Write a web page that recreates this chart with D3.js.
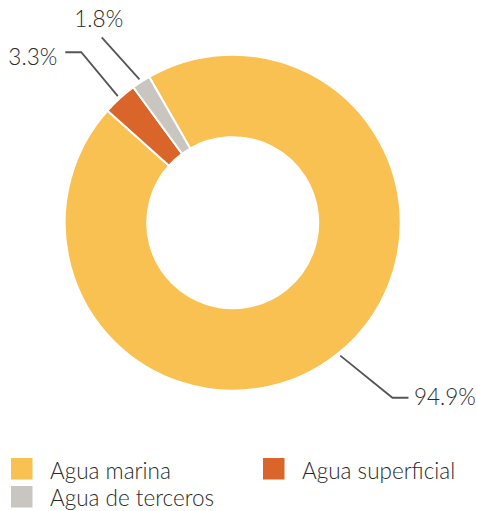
<!DOCTYPE html>
<html>
<head>
<meta charset="utf-8">
<script src="https://cdn.jsdelivr.net/npm/d3@7/dist/d3.min.js"></script>
<style>
  html, body { margin: 0; padding: 0; background: #fff; }
  svg text { font-family: Lato, "Open Sans", sans-serif; font-weight: 300; fill: #2a2a2a; }
</style>
</head>
<body>
<svg id="chart" width="477" height="511"></svg>
<script>
// Water sources, share of total (%)
const categories = ["Agua marina", "Agua superficial", "Agua de terceros"];
const values = [94.9, 3.3, 1.8];
const valueLabels = ["94.9%", "3.3%", "1.8%"];
const colors = ["#F9C152", "#D9652A", "#C9C5C0"];

const width = 477, height = 511;
const svg = d3.select("#chart");
const cx = 232.7, cy = 222.7;
const outerR = 168, innerR = 85.5;

const startDeg = -29.8;
const pie = d3.pie()
  .sort(null)
  .value(d => d.value)
  .startAngle(startDeg * Math.PI / 180)
  .endAngle(startDeg * Math.PI / 180 + 2 * Math.PI);

const data = categories.map((c, i) => ({ name: c, value: values[i], label: valueLabels[i], color: colors[i] }));
const arcs = pie(data);

const arc = d3.arc().innerRadius(innerR).outerRadius(outerR);

const g = svg.append("g").attr("transform", `translate(${cx},${cy})`);

g.selectAll("path.slice")
  .data(arcs)
  .join("path")
  .attr("class", "slice")
  .attr("d", arc)
  .attr("fill", d => d.data.color)
  .attr("stroke", "#fff")
  .attr("stroke-width", 2)
  .attr("stroke-linejoin", "miter");

// Leader lines: start just outside the ring at the slice's middle angle,
// run out to an elbow, then a short horizontal tail toward the label.
const polar = (r, a) => [r * Math.sin(a), -r * Math.cos(a)];
const leaderLayout = [
  { elbowR: 237, elbowShift: -3.4, tail: 16, side: "right" },
  { elbowR: 228, elbowShift: 0.6, tail: -16, side: "left" },
  { elbowR: 227, elbowShift: -2.2, tail: 0, side: "top" }
];

const fontSize = 22.5;

arcs.forEach((d, i) => {
  const mid = (d.startAngle + d.endAngle) / 2;
  const L = leaderLayout[i];
  const p0 = polar(outerR + 3, mid);
  const p1 = polar(L.elbowR, mid + L.elbowShift * Math.PI / 180);
  const pts = [p0, p1];
  if (L.tail !== 0) pts.push([p1[0] + L.tail, p1[1]]);
  g.append("path")
    .attr("d", d3.line()(pts))
    .attr("fill", "none")
    .attr("stroke", "#555")
    .attr("stroke-width", 1.8);

  const end = pts[pts.length - 1];
  const t = g.append("text")
    .attr("font-size", fontSize)
    .text(d.data.label);
  if (L.side === "right") {
    t.attr("x", end[0] + 5.5).attr("y", end[1] + 7.5).attr("text-anchor", "start");
  } else if (L.side === "left") {
    t.attr("x", end[0] - 8).attr("y", end[1] + 12.5).attr("text-anchor", "end");
  } else {
    t.attr("x", end[0] - 3).attr("y", end[1] - 10.5).attr("text-anchor", "middle");
  }
});

// Legend (bottom row baseline kept high enough for descenders to fit)
const legendPos = [[11, 458], [263, 458], [11, 486]];
const legend = svg.append("g");
data.forEach((d, i) => {
  const [lx, ly] = legendPos[i];
  legend.append("rect")
    .attr("x", lx).attr("y", ly)
    .attr("width", 21.5).attr("height", 21.5)
    .attr("fill", d.color);
  legend.append("text")
    .attr("x", lx + 39).attr("y", Math.min(ly + 21, height - 5.5))
    .attr("font-size", fontSize)
    .text(d.name);
});
</script>
</body>
</html>
